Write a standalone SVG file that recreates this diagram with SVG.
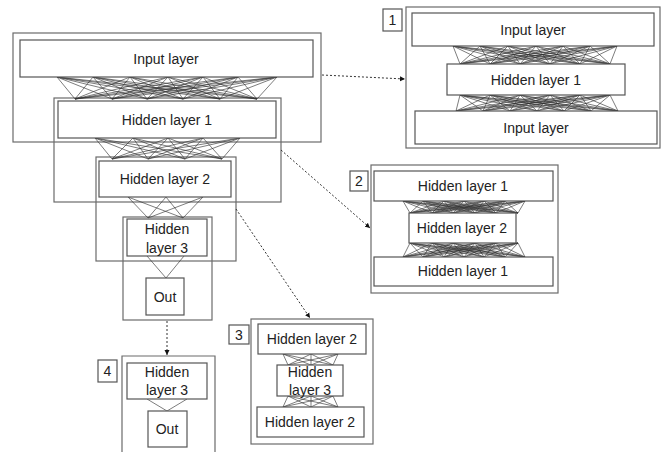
<svg xmlns="http://www.w3.org/2000/svg" width="662" height="452" viewBox="0 0 662 452">
<defs>
<style>
.grp{fill:none;stroke:#6b6b6b;stroke-width:1.2}
.lay{fill:#fff;stroke:#555;stroke-width:1.2}
.num{fill:#fff;stroke:#555;stroke-width:1.2}
.t{font-family:"Liberation Sans",Arial,sans-serif;font-size:14px;fill:#222;text-anchor:middle}
.mesh{fill:none;stroke:#333;stroke-width:0.8;stroke-opacity:0.8}
.dash{fill:none;stroke:#333;stroke-width:1;stroke-dasharray:2 2}
</style>
<marker id="ah" markerWidth="6" markerHeight="6" refX="5" refY="3" orient="auto" markerUnits="userSpaceOnUse">
<path d="M0,0.5 L5,3 L0,5.5 Z" fill="#111"/>
</marker>
</defs>
<rect width="662" height="452" fill="#fff"/>

<!-- Main diagram group boxes -->
<g id="main-input-group"><rect class="grp" x="13" y="33" width="308" height="109"/></g>
<g id="main-h1-group"><rect class="grp" x="54" y="98" width="227" height="104"/></g>
<g id="main-h2-group"><rect class="grp" x="96" y="157" width="140" height="104"/></g>
<g id="main-h3-group"><rect class="grp" x="123" y="217" width="89" height="103"/></g>

<g id="connectors">
<!-- main mesh input -> hidden1 -->
<path class="mesh" d="M57 77L75 99M57 77L112 99M57 77L147 99M57 77L183 99M57 77L220 99M57 77L257 99
M93 77L75 99M93 77L112 99M93 77L147 99M93 77L183 99M93 77L220 99M93 77L257 99
M130 77L75 99M130 77L112 99M130 77L147 99M130 77L183 99M130 77L220 99M130 77L257 99
M168 77L75 99M168 77L112 99M168 77L147 99M168 77L183 99M168 77L220 99M168 77L257 99
M203 77L75 99M203 77L112 99M203 77L147 99M203 77L183 99M203 77L220 99M203 77L257 99
M238 77L75 99M238 77L112 99M238 77L147 99M238 77L183 99M238 77L220 99M238 77L257 99
M277 77L75 99M277 77L112 99M277 77L147 99M277 77L183 99M277 77L220 99M277 77L257 99"/>
<!-- main mesh hidden1 -> hidden2 -->
<path class="mesh" d="M95 138L112 159M95 138L148 159M95 138L185 159M95 138L222 159
M133 138L112 159M133 138L148 159M133 138L185 159M133 138L222 159
M168 138L112 159M168 138L148 159M168 138L185 159M168 138L222 159
M203 138L112 159M203 138L148 159M203 138L185 159M203 138L222 159
M240 138L112 159M240 138L148 159M240 138L185 159M240 138L222 159"/>
<!-- main mesh hidden2 -> hidden3 -->
<path class="mesh" d="M128 197L148 218M128 197L183 218M166 197L148 218M166 197L183 218M203 197L148 218M203 197L183 218"/>
<!-- main hidden3 -> out -->
<path class="mesh" d="M147 256L166 278M184 256L166 278"/>

<!-- box 1 meshes -->
<path class="mesh" d="M453 46L460 64M453 46L490 64M453 46L520 64M453 46L550 64M453 46L580 64M453 46L610 64
M480 46L460 64M480 46L490 64M480 46L520 64M480 46L550 64M480 46L580 64M480 46L610 64
M508 46L460 64M508 46L490 64M508 46L520 64M508 46L550 64M508 46L580 64M508 46L610 64
M536 46L460 64M536 46L490 64M536 46L520 64M536 46L550 64M536 46L580 64M536 46L610 64
M563 46L460 64M563 46L490 64M563 46L520 64M563 46L550 64M563 46L580 64M563 46L610 64
M590 46L460 64M590 46L490 64M590 46L520 64M590 46L550 64M590 46L580 64M590 46L610 64
M617 46L460 64M617 46L490 64M617 46L520 64M617 46L550 64M617 46L580 64M617 46L610 64"/>
<path class="mesh" d="M456 111L460 95M456 111L490 95M456 111L520 95M456 111L550 95M456 111L580 95M456 111L610 95
M483 111L460 95M483 111L490 95M483 111L520 95M483 111L550 95M483 111L580 95M483 111L610 95
M510 111L460 95M510 111L490 95M510 111L520 95M510 111L550 95M510 111L580 95M510 111L610 95
M537 111L460 95M537 111L490 95M537 111L520 95M537 111L550 95M537 111L580 95M537 111L610 95
M564 111L460 95M564 111L490 95M564 111L520 95M564 111L550 95M564 111L580 95M564 111L610 95
M591 111L460 95M591 111L490 95M591 111L520 95M591 111L550 95M591 111L580 95M591 111L610 95
M618 111L460 95M618 111L490 95M618 111L520 95M618 111L550 95M618 111L580 95M618 111L610 95"/>

<!-- box 2 meshes -->
<path class="mesh" d="M403 201L410 213M403 201L432 213M403 201L453 213M403 201L475 213M403 201L496 213M403 201L518 213
M423 201L410 213M423 201L432 213M423 201L453 213M423 201L475 213M423 201L496 213M423 201L518 213
M444 201L410 213M444 201L432 213M444 201L453 213M444 201L475 213M444 201L496 213M444 201L518 213
M464 201L410 213M464 201L432 213M464 201L453 213M464 201L475 213M464 201L496 213M464 201L518 213
M484 201L410 213M484 201L432 213M484 201L453 213M484 201L475 213M484 201L496 213M484 201L518 213
M505 201L410 213M505 201L432 213M505 201L453 213M505 201L475 213M505 201L496 213M505 201L518 213
M525 201L410 213M525 201L432 213M525 201L453 213M525 201L475 213M525 201L496 213M525 201L518 213"/>
<path class="mesh" d="M403 257L410 243M403 257L432 243M403 257L453 243M403 257L475 243M403 257L496 243M403 257L518 243
M423 257L410 243M423 257L432 243M423 257L453 243M423 257L475 243M423 257L496 243M423 257L518 243
M444 257L410 243M444 257L432 243M444 257L453 243M444 257L475 243M444 257L496 243M444 257L518 243
M464 257L410 243M464 257L432 243M464 257L453 243M464 257L475 243M464 257L496 243M464 257L518 243
M484 257L410 243M484 257L432 243M484 257L453 243M484 257L475 243M484 257L496 243M484 257L518 243
M505 257L410 243M505 257L432 243M505 257L453 243M505 257L475 243M505 257L496 243M505 257L518 243
M525 257L410 243M525 257L432 243M525 257L453 243M525 257L475 243M525 257L496 243M525 257L518 243"/>

<!-- box 3 meshes -->
<path class="mesh" d="M283 354L288 365M283 354L311 365M283 354L333 365M311 354L288 365M311 354L311 365M311 354L333 365M338 354L288 365M338 354L311 365M338 354L333 365"/>
<path class="mesh" d="M283 407L288 396M283 407L311 396M283 407L333 396M311 407L288 396M311 407L311 396M311 407L333 396M338 407L288 396M338 407L311 396M338 407L333 396"/>

<!-- box 4 -->
<path class="mesh" d="M147 399L167 411M187 399L167 411"/>

<!-- dashed arrows -->
<path class="dash" d="M322 75L405 79" marker-end="url(#ah)"/>
<path class="dash" d="M281 150L370 228" marker-end="url(#ah)"/>
<path class="dash" d="M236 209L310 318" marker-end="url(#ah)"/>
<path class="dash" d="M167 321L167 355" marker-end="url(#ah)"/>
</g>

<!-- main layers -->
<g id="main-input"><rect class="lay" x="20" y="40" width="293" height="37"/><text class="t" x="166" y="64">Input layer</text></g>
<g id="main-hidden1"><rect class="lay" x="58" y="101" width="218" height="37"/><text class="t" x="167" y="125">Hidden layer 1</text></g>
<g id="main-hidden2"><rect class="lay" x="99" y="161" width="132" height="36"/><text class="t" x="165" y="184">Hidden layer 2</text></g>
<g id="main-hidden3"><rect class="lay" x="127" y="219" width="80" height="37"/><text class="t" x="167" y="234">Hidden</text><text class="t" x="167" y="253">layer 3</text></g>
<g id="main-out"><rect class="lay" x="146" y="278" width="38" height="37"/><text class="t" x="165" y="302">Out</text></g>

<!-- box 1 -->
<g id="box1">
<rect class="grp" x="406" y="7" width="254" height="141"/>
<rect class="num" x="383" y="9" width="19" height="22"/><text class="t" x="392.5" y="25">1</text>
</g>
<g id="box1-input-top"><rect class="lay" x="412" y="13" width="242" height="33"/><text class="t" x="533" y="35">Input layer</text></g>
<g id="box1-hidden1"><rect class="lay" x="447" y="64" width="178" height="31"/><text class="t" x="536" y="85">Hidden layer 1</text></g>
<g id="box1-input-bottom"><rect class="lay" x="415" y="111" width="242" height="33"/><text class="t" x="536" y="133">Input layer</text></g>

<!-- box 2 -->
<g id="box2">
<rect class="grp" x="371" y="165" width="187" height="128"/>
<rect class="num" x="350" y="171" width="18" height="20"/><text class="t" x="359" y="186">2</text>
</g>
<g id="box2-hidden1-top"><rect class="lay" x="374" y="171" width="179" height="30"/><text class="t" x="463" y="191">Hidden layer 1</text></g>
<g id="box2-hidden2"><rect class="lay" x="409" y="213" width="107" height="30"/><text class="t" x="462" y="233">Hidden layer 2</text></g>
<g id="box2-hidden1-bottom"><rect class="lay" x="374" y="257" width="179" height="29"/><text class="t" x="463" y="276">Hidden layer 1</text></g>

<!-- box 3 -->
<g id="box3">
<rect class="grp" x="251" y="319" width="122" height="125"/>
<rect class="num" x="229" y="325" width="20" height="19"/><text class="t" x="239" y="340">3</text>
</g>
<g id="box3-hidden2-top"><rect class="lay" x="258" y="324" width="108" height="30"/><text class="t" x="312" y="344">Hidden layer 2</text></g>
<g id="box3-hidden3"><rect class="lay" x="277" y="365" width="66" height="31"/><text class="t" x="310" y="377">Hidden</text><text class="t" x="310" y="395">layer 3</text></g>
<g id="box3-hidden2-bottom"><rect class="lay" x="257" y="407" width="107" height="30"/><text class="t" x="310" y="427">Hidden layer 2</text></g>

<!-- box 4 -->
<g id="box4">
<path class="grp" d="M122 453V356H215V453"/>
<rect class="num" x="98" y="360" width="19" height="22"/><text class="t" x="107.5" y="376">4</text>
</g>
<g id="box4-hidden3"><rect class="lay" x="127" y="363" width="80" height="36"/><text class="t" x="167" y="377">Hidden</text><text class="t" x="167" y="395">layer 3</text></g>
<g id="box4-out"><rect class="lay" x="148" y="411" width="39" height="36"/><text class="t" x="167" y="434">Out</text></g>
</svg>
